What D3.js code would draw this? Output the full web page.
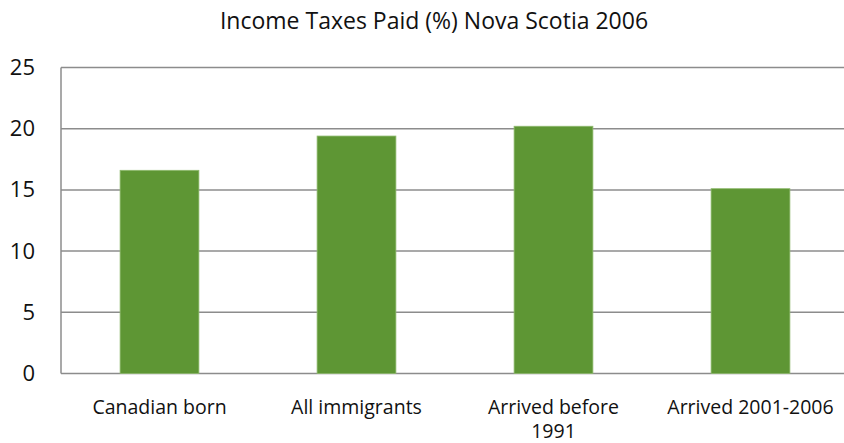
<!DOCTYPE html>
<html>
<head>
<meta charset="utf-8">
<script src="https://cdn.jsdelivr.net/npm/d3@7"></script>
<style>
  body { margin: 0; background: #fff; }
  text { font-family: "Open Sans", sans-serif; fill: #111; }
</style>
</head>
<body>
<div id="chart"></div>
<script>
// data
var categories = ["Canadian born", "All immigrants", "Arrived before 1991", "Arrived 2001-2006"];
var values = [16.6, 19.4, 20.2, 15.1];
var yTicks = [0, 5, 10, 15, 20, 25];
var title = "Income Taxes Paid (%) Nova Scotia 2006";

var width = 844, height = 443;
var margin = {top: 67.5, right: -5, bottom: 69.5, left: 61};
var innerW = width - margin.left - margin.right,
    innerH = height - margin.top - margin.bottom;

var svg = d3.select("#chart").append("svg")
    .attr("width", width)
    .attr("height", height);

svg.append("text")
    .attr("x", 434)
    .attr("y", 29)
    .attr("text-anchor", "middle")
    .style("font-size", "23px")
    .text(title);

var g = svg.append("g")
    .attr("transform", "translate(" + margin.left + "," + margin.top + ")");

var x = d3.scaleBand().domain(categories).range([0, innerW]).paddingInner(0.6).paddingOuter(0.3);
var y = d3.scaleLinear().domain([0, 25]).range([innerH, 0]);

// gridlines
g.selectAll(".grid")
    .data(yTicks)
    .enter().append("line")
    .attr("class", "grid")
    .attr("x1", 0)
    .attr("x2", innerW)
    .attr("y1", function(d) { return y(d); })
    .attr("y2", function(d) { return y(d); })
    .attr("stroke", "#8c8c8c")
    .attr("stroke-width", 1.5);

// left axis line
g.append("line")
    .attr("x1", 0).attr("x2", 0)
    .attr("y1", y(25)).attr("y2", y(0))
    .attr("stroke", "#8c8c8c")
    .attr("stroke-width", 1.5);

// y labels
var yAxis = g.append("g")
    .call(d3.axisLeft(y).tickValues(yTicks).tickSize(0).tickPadding(26));
yAxis.select(".domain").remove();
yAxis.selectAll("text")
    .style("font-size", "22px")
    .style("font-family", "'Open Sans', sans-serif")
    .attr("fill", "#111");

// bars
g.selectAll(".bar")
    .data(values)
    .enter().append("rect")
    .attr("class", "bar")
    .attr("x", function(d, i) { return x(categories[i]); })
    .attr("y", function(d) { return y(d); })
    .attr("width", x.bandwidth())
    .attr("height", function(d) { return y(0) - y(d); })
    .attr("fill", "#5e9634")
    .attr("stroke", "#8fba6f")
    .attr("stroke-width", 0.8);

// category labels, wrapped by hand where the source wraps
var labelLines = {"Arrived before 1991": ["Arrived before", "1991"]};
var xl = g.append("g").attr("transform", "translate(0," + innerH + ")");
categories.forEach(function(c) {
  var lines = labelLines[c] || [c];
  lines.forEach(function(l, i) {
    xl.append("text")
      .attr("text-anchor", "middle")
      .attr("x", x(c) + x.bandwidth() / 2)
      .attr("y", 40 + i * 24.5)
      .style("font-size", "19.5px")
      .text(l);
  });
});
</script>
</body>
</html>
